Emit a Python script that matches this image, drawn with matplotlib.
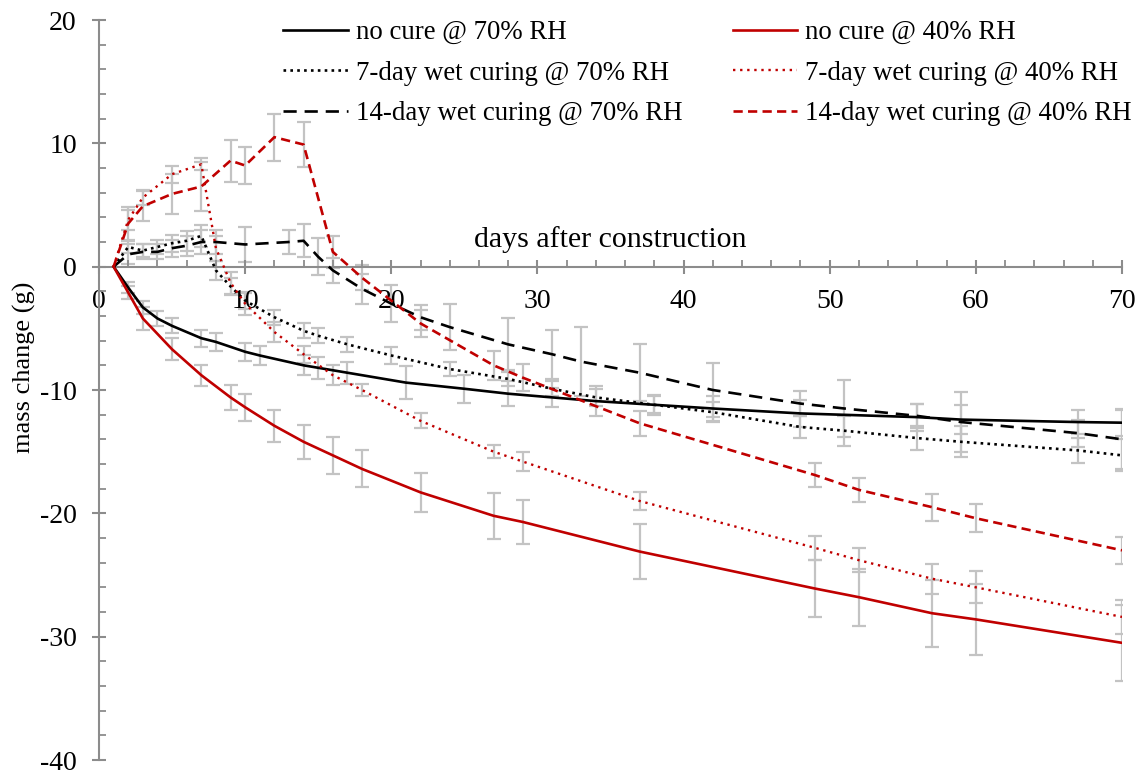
import matplotlib
matplotlib.use("Agg")
import matplotlib.pyplot as plt
from matplotlib.ticker import MultipleLocator

# 40% RH group
rs_days = [1, 2, 3, 5, 7, 9, 10, 12, 14, 16, 18, 22, 27, 29, 37, 49, 52, 57, 60, 70]
rs_vals = [0, -2.1, -4.2, -6.7, -8.8, -10.6, -11.4, -12.9, -14.2, -15.3, -16.4, -18.3,
           -20.2, -20.7, -23.1, -26.1, -26.8, -28.1, -28.6, -30.5]
rs_err = [0, 0.5, 0.9, 0.9, 0.85, 1.0, 1.1, 1.3, 1.4, 1.5, 1.5, 1.6, 1.85, 1.8, 2.2,
          2.3, 2.3, 2.7, 2.9, 3.1]

rd_days = [1, 2, 3, 5, 7, 8, 9, 10, 12, 14, 16, 18, 22, 27, 29, 37, 49, 52, 57, 60, 70]
rd_vals = [0, 3.8, 5.6, 7.5, 8.3, 1.5, -1.3, -3.0, -5.3, -7.1, -8.8, -10.0, -12.5,
           -15.0, -15.8, -19.0, -22.8, -23.8, -25.3, -26.0, -28.4]
rd_err = [0, 0.8, 0.6, 0.7, 0.5, 1.0, 0.9, 0.9, 0.8, 0.7, 0.8, 0.5, 0.6, 0.55, 0.8,
          0.7, 1.0, 0.95, 1.2, 1.3, 1.35]

rdd_days = [1, 2, 3, 5, 7, 9, 10, 12, 14, 16, 18, 22, 27, 29, 37, 49, 52, 57, 60, 70]
rdd_vals = [0, 3.5, 4.9, 5.9, 6.5, 8.6, 8.2, 10.5, 9.9, 1.2, -0.9, -4.6, -8.0, -9.0,
            -12.7, -16.9, -18.1, -19.5, -20.4, -23.0]
rdd_err = [0, 1.3, 1.2, 1.6, 2.0, 1.7, 1.5, 1.9, 1.8, 1.3, 1.0, 1.1, 1.2, 1.1, 1.0,
           0.95, 1.0, 1.1, 1.15, 1.1]

# 70% RH group
bs_days = [1, 2, 3, 4, 5, 7, 8, 10, 11, 14, 15, 17, 21, 25, 28, 31, 34, 38, 42, 48,
           56, 59, 67, 70]
bs_vals = [0, -1.7, -3.3, -4.2, -4.8, -5.8, -6.1, -6.9, -7.2, -8.0, -8.2, -8.6, -9.4,
           -9.9, -10.3, -10.6, -10.9, -11.2, -11.5, -11.9, -12.2, -12.4, -12.6, -12.65]
bs_err = [0, 0.45, 0.5, 0.6, 0.6, 0.7, 0.7, 0.75, 0.8, 0.8, 0.9, 0.9, 1.35, 1.15, 1.0,
          0.8, 1.2, 0.8, 1.0, 1.1, 1.1, 1.2, 1.0, 1.1]

bd_days = [1, 2, 3, 4, 5, 6, 7, 8, 9, 10, 12, 14, 15, 17, 20, 24, 28, 31, 34, 38, 42,
           48, 51, 56, 59, 67, 70]
bd_vals = [0, 1.6, 1.3, 1.6, 1.9, 2.1, 2.5, -0.3, -1.6, -2.75, -4.1, -5.2, -5.6, -6.3,
           -7.2, -8.3, -9.1, -9.9, -10.6, -11.2, -11.8, -13.0, -13.3, -13.9, -14.2,
           -14.9, -15.3]
bd_err = [0, 0.5, 0.5, 0.6, 0.7, 0.8, 0.9, 0.8, 0.7, 0.7, 0.6, 0.6, 0.6, 0.6, 0.7, 0.6,
          0.6, 0.6, 0.7, 0.7, 0.8, 0.9, 1.2, 1.0, 1.25, 1.0, 1.3]

bdd_days = [1, 2, 3, 4, 5, 6, 7, 8, 10, 13, 14, 15, 16, 18, 20, 22, 24, 28, 31, 33, 37,
            42, 48, 51, 56, 59, 67, 70]
bdd_vals = [0, 1.0, 1.2, 1.2, 1.5, 1.7, 2.0, 2.0, 1.8, 2.0, 2.1, 0.8, -0.3, -1.8, -3.0,
            -4.1, -4.9, -6.3, -7.1, -7.7, -8.6, -10.0, -11.1, -11.5, -12.1, -12.6,
            -13.5, -14.0]
bdd_err = [0, 0.8, 0.6, 0.6, 0.7, 0.8, 1.0, 1.0, 1.4, 0.95, 1.35, 1.5, 1.0, 1.2, 1.5,
           1.0, 1.85, 2.1, 2.0, 2.8, 2.3, 2.2, 1.0, 2.3, 1.0, 2.4, 1.1, 2.4]

labels = ["no cure @ 70% RH", "7-day wet curing @ 70% RH", "14-day wet curing @ 70% RH",
          "no cure @ 40% RH", "7-day wet curing @ 40% RH", "14-day wet curing @ 40% RH"]

RED = "#c00000"
GREY_AX = "#8c8c8c"
GREY_ERR = "#c3c3c3"

plt.rcParams["font.family"] = ["Liberation Serif", "DejaVu Serif"]
plt.rcParams["axes.unicode_minus"] = False

fig = plt.figure(figsize=(11.4, 7.71), dpi=100)
ax = fig.add_axes([99 / 1140, 1 - 760 / 771, 1023 / 1140, 740 / 771])

series = [
    (bs_days, bs_vals, bs_err, "black", "-", 1.9),
    (bd_days, bd_vals, bd_err, "black", (0, (1, 1.6)), 1.9),
    (bdd_days, bdd_vals, bdd_err, "black", (0, (5, 3)), 1.9),
    (rs_days, rs_vals, rs_err, RED, "-", 1.9),
    (rd_days, rd_vals, rd_err, RED, (0, (1, 2)), 1.7),
    (rdd_days, rdd_vals, rdd_err, RED, (0, (3.5, 2)), 1.9),
]

for d, v, e, c, ls, lw in series:
    ax.errorbar(d[1:], v[1:], yerr=e[1:], fmt="none", ecolor=GREY_ERR,
                elinewidth=1.6, capsize=5, capthick=1.6, zorder=1)

for (d, v, e, c, ls, lw), lab in zip(series, labels):
    ax.plot(d, v, color=c, linestyle=ls, linewidth=lw, label=lab, zorder=3)

ax.set_xlim(0, 70)
ax.set_ylim(-40, 20)
ax.spines["left"].set_position(("data", 0))
ax.spines["bottom"].set_position(("data", 0))
ax.spines["top"].set_visible(False)
ax.spines["right"].set_visible(False)
for s in ["left", "bottom"]:
    ax.spines[s].set_color(GREY_AX)
    ax.spines[s].set_linewidth(1.5)

ax.xaxis.set_major_locator(MultipleLocator(10))
ax.xaxis.set_minor_locator(MultipleLocator(2))
ax.yaxis.set_major_locator(MultipleLocator(10))
ax.yaxis.set_minor_locator(MultipleLocator(2))
ax.tick_params(which="major", direction="inout", length=10, width=1.5, color=GREY_AX,
               labelsize=20, pad=11)
ax.tick_params(which="minor", direction="in", length=5, width=1.3, color=GREY_AX)

ax.text(0.5, 0.703, "days after construction", transform=ax.transAxes,
        ha="center", va="center", fontsize=21.5)
ax.set_ylabel("mass change (g)", fontsize=19)
ax.yaxis.set_label_coords(-0.062, 0.53)

ax.legend(loc="upper left", bbox_to_anchor=(283 / 1140, 1 - 20 / 771),
          bbox_transform=fig.transFigure,
          ncol=2, frameon=False, fontsize=19.4, handlelength=2.4, handletextpad=0.3,
          columnspacing=1.87, labelspacing=0.58, borderpad=0, borderaxespad=0)

fig.savefig("out.png", dpi=100)
